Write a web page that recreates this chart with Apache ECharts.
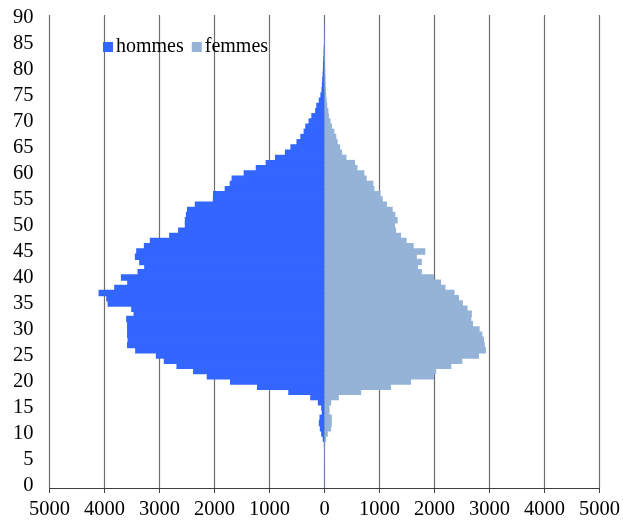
<!DOCTYPE html>
<html>
<head>
<meta charset="utf-8">
<script src="https://cdn.jsdelivr.net/npm/echarts@6/dist/echarts.min.js"></script>
<style>
  html, body { margin: 0; padding: 0; background: #fff; }
  #pyramide { width: 623px; height: 522px; }
</style>
</head>
<body>
<div id="pyramide"></div>
<script>
// ages 0..90, un effectif par âge
var ages = [];
for (var a = 0; a <= 90; a++) ages.push(String(a));

var hommes = [
  4, 4, 5, 5, 5, 6, 6, 8, 12, 33,
  61, 85, 103, 91, 50, 60, 121, 260, 659, 1228,
  1718, 2141, 2390, 2692, 2922, 3067, 3443, 3590, 3580, 3590,
  3590, 3590, 3606, 3472, 3515, 3944, 3969, 4108, 3824, 3588,
  3702, 3400, 3279, 3370, 3448, 3424, 3285, 3176, 2825, 2662,
  2540, 2540, 2520, 2500, 2359, 2030, 2027, 1815, 1724, 1690,
  1470, 1250, 1070, 900, 720, 620, 510, 440, 380, 350,
  290, 240, 170, 150, 105, 75, 55, 48, 42, 35,
  30, 27, 22, 18, 15, 10, 8, 6, 4, 3,
  2
];

var femmes = [
  4, 4, 5, 5, 5, 6, 6, 8, 12, 30,
  61, 121, 133, 133, 91, 91, 121, 260, 666, 1210,
  1573, 1990, 2030, 2305, 2505, 2810, 2935, 2915, 2900, 2870,
  2820, 2700, 2670, 2680, 2600, 2515, 2445, 2365, 2200, 2120,
  1990, 1770, 1700, 1770, 1680, 1833, 1621, 1494, 1392, 1301,
  1283, 1331, 1289, 1240, 1137, 1059, 1020, 907, 889, 768,
  726, 600, 555, 400, 320, 285, 240, 215, 180, 135,
  110, 80, 70, 50, 40, 30, 25, 20, 18, 15,
  12, 10, 9, 8, 7, 6, 5, 4, 3, 2,
  2
];

var police = '"Liberation Serif", "Times New Roman", serif';

var chart = echarts.init(document.getElementById('pyramide'));
var option = {
  animation: false,
  textStyle: { fontFamily: police },
  legend: {
    left: 98,
    top: 32,
    icon: 'rect',
    itemWidth: 10,
    itemHeight: 10,
    itemGap: 8,
    textStyle: { fontFamily: police, fontSize: 20, color: '#000', padding: [0, 0, 0, -2] },
    data: ['hommes', 'femmes']
  },
  grid: { left: 49.5, right: 22.5, top: 15, bottom: 34 },
  xAxis: {
    type: 'value',
    min: -5000,
    max: 5000,
    interval: 1000,
    axisLine: { show: true, lineStyle: { color: '#404040', width: 1 } },
    axisTick: { show: true, length: 5, lineStyle: { color: '#404040' } },
    axisLabel: {
      fontFamily: police, fontSize: 20.5, color: '#000', margin: 11,
      formatter: function (v) { return Math.abs(v); }
    },
    splitLine: { show: true, lineStyle: { color: '#6e6e6e', width: 1.2 } }
  },
  yAxis: {
    type: 'category',
    data: ages,
    boundaryGap: true,
    axisLine: { show: false },
    axisTick: { show: false },
    splitLine: { show: false },
    axisLabel: { interval: 4, fontFamily: police, fontSize: 20.5, color: '#000', margin: 16 }
  },
  series: [
    {
      name: 'hommes',
      type: 'bar',
      barWidth: 6.5,
      barGap: '-100%',
      itemStyle: { color: '#3366ff' },
      data: hommes.map(function (v) { return -v; })
    },
    {
      name: 'femmes',
      type: 'bar',
      barWidth: 6.5,
      barGap: '-100%',
      itemStyle: { color: '#95b3d7' },
      data: femmes
    }
  ]
};
chart.setOption(option);
</script>
</body>
</html>
